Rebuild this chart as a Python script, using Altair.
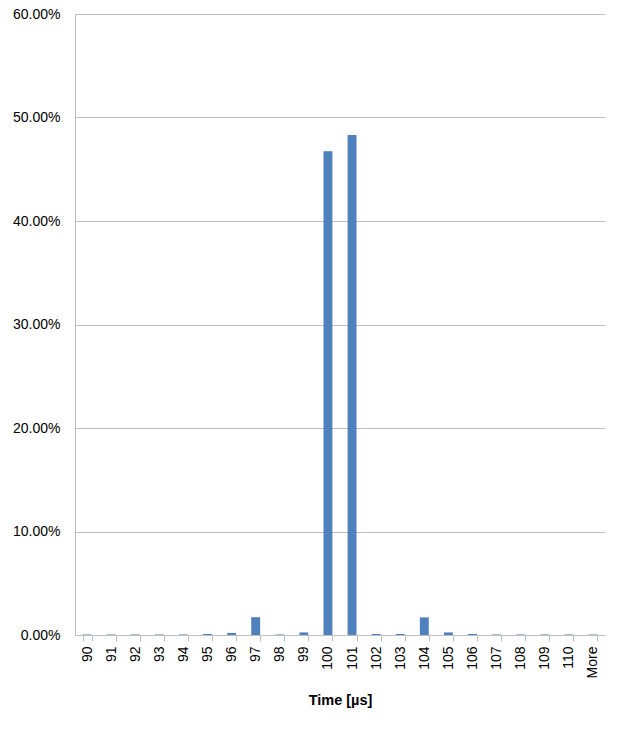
import altair as alt
import pandas as pd

# Histogram bins (µs) and relative frequency of each bin
bins = ["90", "91", "92", "93", "94", "95", "96", "97", "98", "99", "100",
        "101", "102", "103", "104", "105", "106", "107", "108", "109", "110", "More"]
frequency = [0.0005, 0.0005, 0.0005, 0.0005, 0.0005, 0.001, 0.002, 0.0172, 0.0005, 0.0025, 0.4675,
             0.483, 0.001, 0.001, 0.017, 0.0025, 0.001, 0.0005, 0.0005, 0.0005, 0.0005, 0.0005]

df = pd.DataFrame({"bin": bins, "freq": frequency})

font = "Liberation Sans"

chart = alt.Chart(df).mark_bar(color="#4F81BD").encode(
    x=alt.X(
        "bin:N",
        sort=bins,
        title="Time [µs]",
        scale=alt.Scale(paddingInner=0.63, paddingOuter=0.315),
        axis=alt.Axis(
            labelAngle=-90,
            labelAlign="right",
            labelBaseline="middle",
            labelFont=font,
            labelFontSize=14,
            labelColor="#000000",
            labelPadding=5,
            tickBand="extent",
            tickColor="#BFBFBF",
            tickSize=6,
            domainColor="#BFBFBF",
            titleFont=font,
            titleFontSize=14.5,
            titleFontWeight="bold",
            titleColor="#000000",
            titlePadding=16,
        ),
    ),
    y=alt.Y(
        "freq:Q",
        title=None,
        scale=alt.Scale(domain=[0, 0.6], nice=False),
        axis=alt.Axis(
            format=".2%",
            values=[0, 0.1, 0.2, 0.3, 0.4, 0.5, 0.6],
            labelFont=font,
            labelFontSize=14,
            labelColor="#000000",
            labelPadding=15,
            ticks=False,
            domainColor="#BFBFBF",
            gridColor="#BFBFBF",
        ),
    ),
).properties(
    width=530,
    height=621,
    autosize=alt.AutoSizeParams(type="none"),
    padding={"left": 75, "top": 14, "right": 14, "bottom": 96},
).configure_view(stroke=None)

chart.save("out.html", embed_options={"renderer": "svg", "actions": False})
